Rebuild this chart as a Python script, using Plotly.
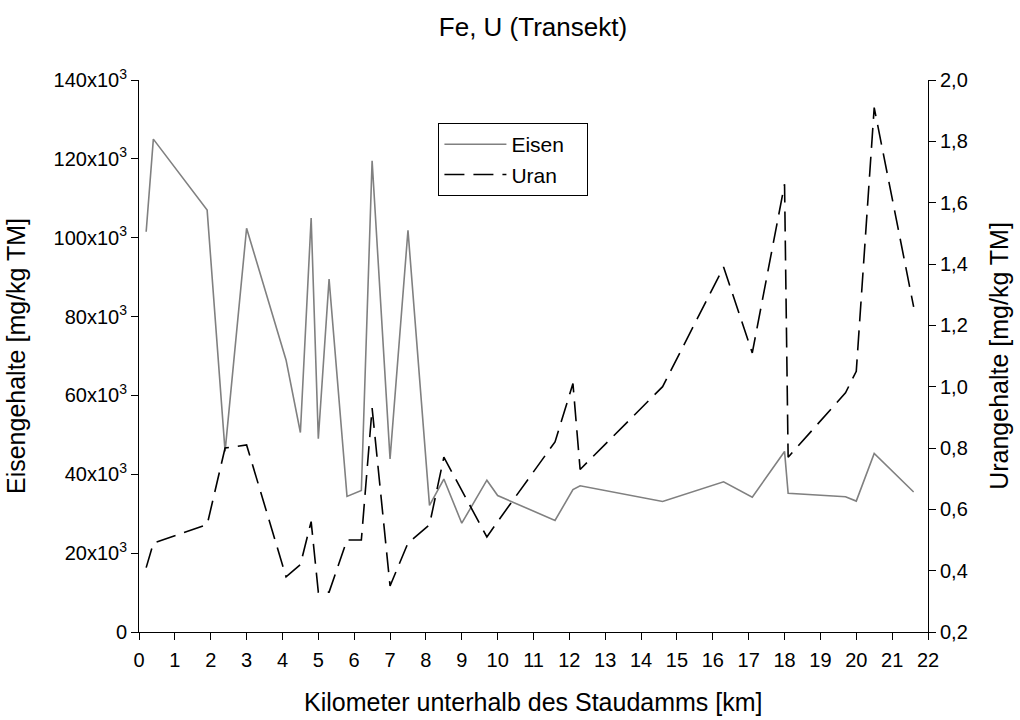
import plotly.graph_objects as go

# Sampling positions along the transect (km below the dam)
km = [0.2, 0.4, 1.9, 2.4, 3.0, 4.1, 4.5, 4.8, 5.0, 5.3, 5.8, 6.2, 6.5, 7.0, 7.5, 8.1,
      8.5, 9.0, 9.7, 10.0, 11.6, 12.1, 12.3, 14.6, 16.3, 17.1, 18.0, 18.1, 19.7, 20.0,
      20.5, 21.6]

# Iron content [mg/kg TM]
eisen = [101500, 125000, 107000, 45800, 102400, 69000, 50600, 105000, 49000, 89500,
         34400, 35900, 119500, 43900, 101900, 32100, 38800, 27600, 38500, 34600,
         28300, 36100, 37100, 33100, 38100, 34200, 45800, 35200, 34300, 33200,
         45300, 35500]

# Uranium content [mg/kg TM]
uran = [0.41, 0.49, 0.55, 0.80, 0.81, 0.38, 0.42, 0.56, 0.33, 0.33, 0.50, 0.50, 0.93,
        0.35, 0.49, 0.55, 0.77, 0.66, 0.51, 0.56, 0.82, 1.01, 0.73, 1.00, 1.39, 1.11,
        1.66, 0.77, 0.98, 1.05, 1.91, 1.26]

fe_ticks = [0, 20000, 40000, 60000, 80000, 100000, 120000, 140000]
fe_labels = ["0"] + [f"{v // 1000}x10<sup>3</sup>" for v in fe_ticks[1:]]
u_ticks = [0.2, 0.4, 0.6, 0.8, 1.0, 1.2, 1.4, 1.6, 1.8, 2.0]
u_labels = [f"{v:.1f}".replace(".", ",") for v in u_ticks]
x_ticks = list(range(0, 23))

font = "Liberation Sans, Arial, sans-serif"
tick_font = dict(size=20, color="black", family=font)
label_font = dict(size=25, color="black", family=font)

fig = go.Figure()
fig.add_trace(go.Scatter(x=km, y=eisen, name="Eisen\u00a0\u00a0\u00a0", mode="lines",
                         line=dict(color="#808080", width=1.6)))
fig.add_trace(go.Scatter(x=km, y=uran, name="Uran", mode="lines", yaxis="y2",
                         line=dict(color="black", width=1.6, dash="20px,9px")))

axis_common = dict(showgrid=False, zeroline=False, showline=True, linecolor="black",
                   linewidth=1, ticks="outside", ticklen=7, tickcolor="black",
                   tickfont=tick_font)

fig.update_layout(
    width=1020, height=720,
    margin=dict(l=139, r=92, t=80, b=88),
    paper_bgcolor="white", plot_bgcolor="white",
    font=dict(family=font, color="black"),
    title=dict(text="Fe, U (Transekt)", x=0.5225, xanchor="center", y=0.962,
               yanchor="middle", font=dict(size=26, color="black", family=font)),
    xaxis=dict(range=[0, 22], tickvals=x_ticks, ticktext=[str(v) for v in x_ticks],
               ticklabelstandoff=3, **axis_common),
    yaxis=dict(range=[0, 140000], tickvals=fe_ticks, ticktext=fe_labels,
               title=dict(text="Eisengehalte [mg/kg TM]", font=label_font, standoff=20),
               **axis_common),
    yaxis2=dict(range=[0.2, 2.0], tickvals=u_ticks, ticktext=u_labels, overlaying="y",
                side="right",
                title=dict(text="Urangehalte [mg/kg TM]", font=label_font, standoff=23),
                **axis_common),
    legend=dict(x=0.3795, y=0.922, xanchor="left", yanchor="top",
                bordercolor="black", borderwidth=1, bgcolor="white",
                font=dict(size=21, color="black", family=font),
                itemwidth=62, tracegroupgap=0),
    showlegend=True,
)

# x-axis title placed below the tick labels
fig.add_annotation(text="Kilometer unterhalb des Staudamms [km]", xref="paper",
                   yref="paper", x=0.5, y=-0.1276, xanchor="center", yanchor="middle",
                   showarrow=False, font=label_font)

fig.write_html("out.html")
